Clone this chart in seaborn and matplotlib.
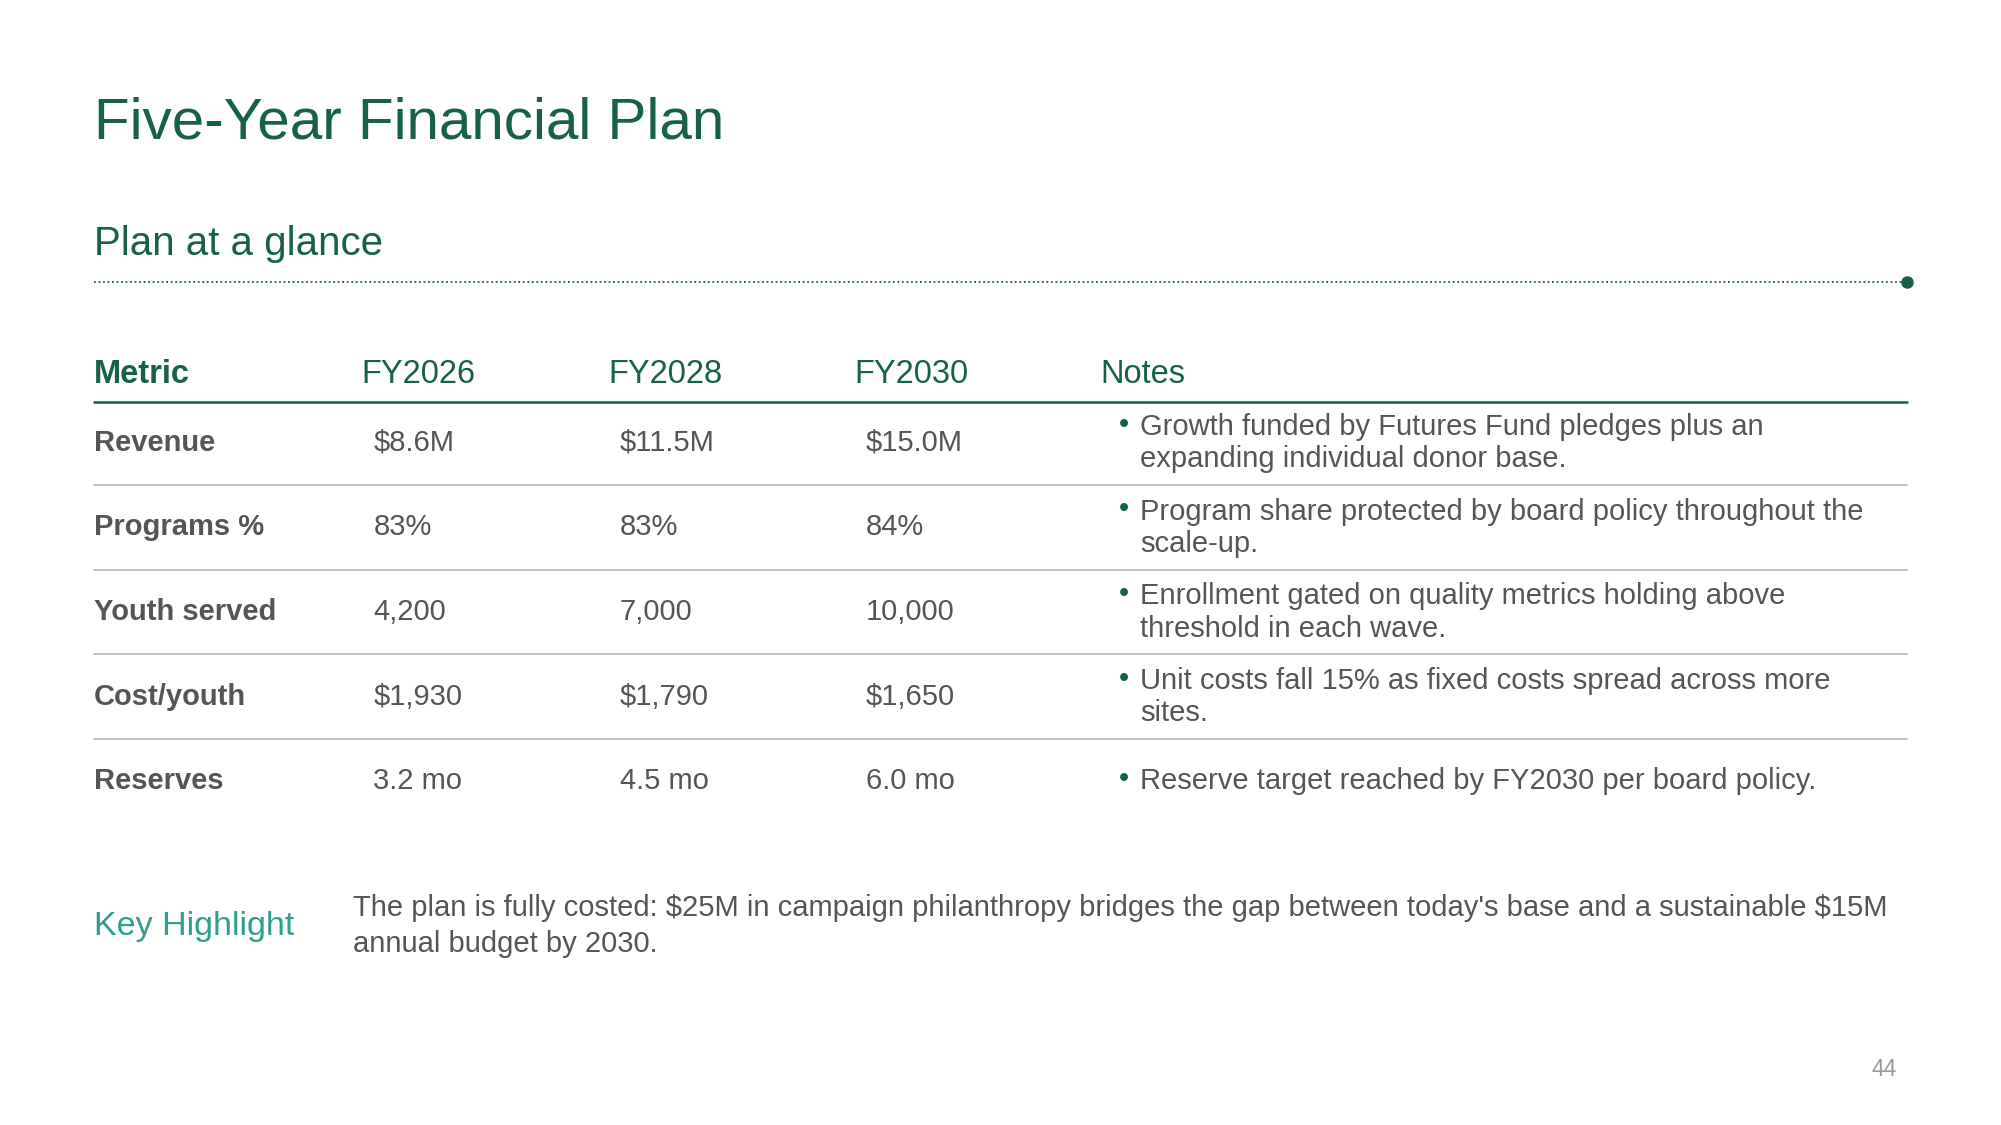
import matplotlib
matplotlib.use("Agg")
import matplotlib.pyplot as plt
import seaborn as sns

sns.set_theme(style="white")
plt.rcParams['font.family'] = ['Liberation Sans', 'DejaVu Sans']
plt.rcParams['text.parse_math'] = False

title = "Five-Year Financial Plan"
subtitle = "Plan at a glance"
headers = ["Metric", "FY2026", "FY2028", "FY2030", "Notes"]
metrics = ["Revenue", "Programs %", "Youth served", "Cost/youth", "Reserves"]
fy2026 = ["$8.6M", "83%", "4,200", "$1,930", "3.2 mo"]
fy2028 = ["$11.5M", "83%", "7,000", "$1,790", "4.5 mo"]
fy2030 = ["$15.0M", "84%", "10,000", "$1,650", "6.0 mo"]
notes = [
    ["Growth funded by Futures Fund pledges plus an", "expanding individual donor base."],
    ["Program share protected by board policy throughout the", "scale-up."],
    ["Enrollment gated on quality metrics holding above", "threshold in each wave."],
    ["Unit costs fall 15% as fixed costs spread across more", "sites."],
    ["Reserve target reached by FY2030 per board policy."],
]
highlight_label = "Key Highlight"
highlight_text = ["The plan is fully costed: $25M in campaign philanthropy bridges the gap between today's base and a sustainable $15M",
                  "annual budget by 2030."]
page = "44"

GREEN = "#17614a"
TEAL = "#2e9e8e"
GREY = "#555555"
LINEC = "#b5b5b5"
R = 1487

fig = plt.figure(figsize=(20.01, 11.25), dpi=100)
ax = fig.add_axes([0, 0, 1, 1])
ax.set_xlim(0, 1560)
ax.set_ylim(877, 0)
ax.axis("off")

ax.text(73, 96, title, fontsize=42, color=GREEN, va="center", ha="left")
ax.text(73, 190, subtitle, fontsize=29, color=GREEN, va="center", ha="left")
ax.plot([73, R - 4], [220, 220], color=GREEN, lw=1.3, ls=(0, (1, 1.5)))
ax.plot([R], [220], marker="o", color=GREEN, ms=8)

hx = [73, 282, 474, 666, 858]
for i, (x, h) in enumerate(zip(hx, headers)):
    ax.text(x, 292, h, fontsize=23.5, color=GREEN, va="center", ha="left",
            fontweight="bold" if i == 0 else "normal")
ax.plot([73, R], [313, 313], color=GREEN, lw=1.8)

vx = [291, 483, 675]
for r, m in enumerate(metrics):
    yc = 345 + 66 * r
    ax.text(73, yc, m, fontsize=21, color=GREY, fontweight="bold", va="center")
    for x, col in zip(vx, [fy2026, fy2028, fy2030]):
        ax.text(x, yc, col[r], fontsize=21, color=GREY, va="center")
    lines = notes[r]
    ys = [yc - 12, yc + 13] if len(lines) == 2 else [yc]
    ax.text(872, ys[0] - 2, "•", fontsize=21, color=GREEN, va="center")
    for y, t in zip(ys, lines):
        ax.text(889, y, t, fontsize=21, color=GREY, va="center")
    if r < len(metrics) - 1:
        ax.plot([73, R], [yc + 33, yc + 33], color=LINEC, lw=1.2)

ax.text(73, 722, highlight_label, fontsize=24.5, color=TEAL, va="center")
for i, t in enumerate(highlight_text):
    ax.text(275, 708 + 28 * i, t, fontsize=21, color=GREY, va="center")
ax.text(1479, 834, page, fontsize=16.5, color="#999999", va="center", ha="right")

fig.savefig("out.png", dpi=100, facecolor="white")
